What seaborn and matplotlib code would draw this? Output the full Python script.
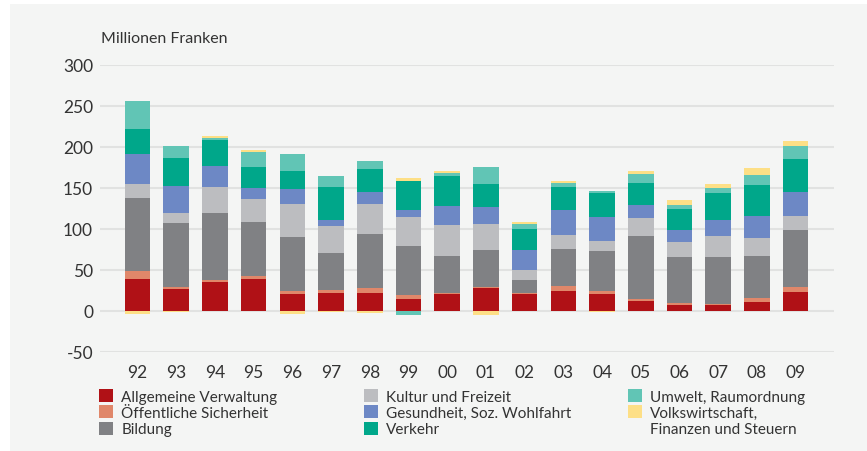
import matplotlib
matplotlib.use("Agg")
import matplotlib.pyplot as plt
from matplotlib.patches import Rectangle, Patch
import pandas as pd
import seaborn as sns

# Data (Millionen Franken)
years = ["92", "93", "94", "95", "96", "97", "98", "99", "00", "01",
         "02", "03", "04", "05", "06", "07", "08", "09"]
verwaltung = [39.4, 26.4, 35.3, 38.6, 20.7, 21.9, 21.5, 15.0, 20.7, 27.6,
              20.3, 24.4, 21.1, 11.8, 7.3, 7.3, 10.6, 23.1]
sicherheit = [9.0, 3.2, 2.4, 4.0, 3.7, 3.7, 6.1, 4.5, 1.6, 2.0,
              2.0, 6.5, 2.9, 3.2, 2.0, 0.8, 5.3, 6.5]
bildung = [90.0, 78.0, 82.4, 66.2, 65.3, 44.7, 65.8, 59.3, 44.3, 45.1,
           15.1, 44.6, 49.5, 76.8, 56.1, 57.7, 51.2, 68.6]
kultur = [16.7, 11.4, 30.9, 28.0, 40.6, 33.7, 37.0, 35.7, 37.8, 30.9,
          12.5, 17.5, 12.2, 21.5, 18.7, 26.0, 22.3, 17.5]
gesundheit = [36.0, 32.9, 25.6, 13.4, 18.7, 7.3, 14.6, 8.9, 24.0, 20.7,
              24.4, 29.6, 28.4, 15.4, 15.0, 18.7, 26.8, 29.6]
verkehr = [31.0, 34.5, 32.5, 24.8, 22.3, 39.4, 27.6, 35.3, 36.1, 28.4,
           26.0, 29.2, 29.6, 27.6, 24.8, 32.9, 37.0, 40.6]
umwelt = [34.6, 15.4, 2.4, 18.3, 20.7, 13.4, 10.2, -4.5, 3.3, 20.7,
          5.7, 4.5, 2.4, 10.2, 4.9, 6.1, 12.2, 15.0]
volkswirtschaft = [-4.0, -1.5, 2.0, 3.2, -3.7, -1.5, -3.0, 3.7, 2.4, -4.5,
                   2.4, 2.4, -1.5, 4.5, 6.9, 5.7, 8.9, 6.1]

labels = ["Allgemeine Verwaltung", "Öffentliche Sicherheit", "Bildung",
          "Kultur und Freizeit", "Gesundheit, Soz. Wohlfahrt", "Verkehr",
          "Umwelt, Raumordnung", "Volkswirtschaft,"]
colors = ["#b01116", "#e0876a", "#808184", "#bcbdc0",
          "#6d88c5", "#00a78a", "#61c5b5", "#fddf86"]

df = pd.DataFrame({
    labels[0]: verwaltung, labels[1]: sicherheit, labels[2]: bildung,
    labels[3]: kultur, labels[4]: gesundheit, labels[5]: verkehr,
    labels[6]: umwelt, labels[7]: volkswirtschaft,
}, index=years)

# stacked tops: positives stack upward, negatives downward
pos_top = df.clip(lower=0).cumsum(axis=1)
neg_top = df.clip(upper=0).cumsum(axis=1)

sns.set_style("white")
plt.rcParams["font.family"] = ["Lato", "DejaVu Sans"]
plt.rcParams["axes.unicode_minus"] = False
text_col = "#333333"
bg = "#f4f5f4"

fig = plt.figure(figsize=(8.67, 4.52), dpi=100, facecolor="white")
fig.patches.append(Rectangle((10 / 867, 0), 1, 447 / 452, transform=fig.transFigure,
                             facecolor=bg, edgecolor="none", zorder=-10))
ax = fig.add_axes([100 / 867, 99 / 452, 734 / 867, 287 / 452])
ax.set_facecolor("none")

# draw from last layer to first so earlier layers overpaint later ones
for col, c in zip(reversed(labels), reversed(colors)):
    plot_df = pd.DataFrame({"year": years, "pos": pos_top[col].values,
                            "neg": neg_top[col].values})
    sns.barplot(data=plot_df, x="year", y="pos", order=years, color=c,
                saturation=1, width=0.66, errorbar=None, linewidth=0, ax=ax, zorder=3)
    sns.barplot(data=plot_df, x="year", y="neg", order=years, color=c,
                saturation=1, width=0.66, errorbar=None, linewidth=0, ax=ax, zorder=3)

ax.set_ylim(-50, 300)
ax.set_xlim(-0.97, 17.99)
ax.set_yticks([-50, 0, 50, 100, 150, 200, 250, 300])
ax.yaxis.grid(True, color="#e1e2e1", linewidth=1.5, zorder=0)
ax.set_axisbelow(True)
ax.set_xlabel("")
ax.set_ylabel("")
sns.despine(ax=ax, left=True, bottom=True)
ax.tick_params(axis="both", length=0, labelsize=12.5, colors=text_col)
ax.tick_params(axis="y", pad=5)
ax.tick_params(axis="x", pad=9)

fig.text(101 / 867, 1 - 39 / 452, "Millionen Franken", fontsize=11.5,
         color=text_col, va="center", ha="left")

# legend: three columns, last label continues on an extra row without a swatch
handles = [Patch(facecolor=c, edgecolor="none") for c in colors]
handles.append(Patch(facecolor="none", edgecolor="none"))
leg_labels = labels + ["Finanzen und Steuern"]
col_x = [99 / 867, 364 / 867, 628 / 867]
groups = [(0, 3), (3, 6), (6, 9)]
for x0, (a, b) in zip(col_x, groups):
    fig.legend(handles[a:b], leg_labels[a:b], loc="upper left",
               bbox_to_anchor=(x0, 1 - 390 / 452), frameon=False,
               fontsize=11, handlelength=0.9, handleheight=0.9,
               handletextpad=0.55, labelspacing=0.12, borderpad=0,
               borderaxespad=0, labelcolor=text_col)

fig.savefig("out.png", dpi=100, facecolor="white")
